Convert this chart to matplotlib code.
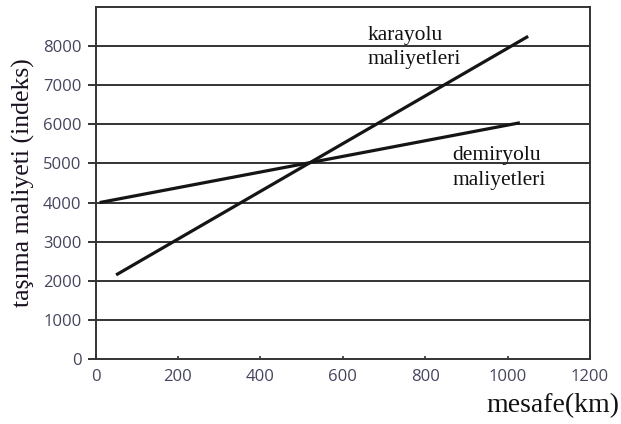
import matplotlib.pyplot as plt

# --------------------------------------------------------------
# Data
# --------------------------------------------------------------
karayolu_km = [50, 1050]
karayolu_cost = [2150, 8250]
demiryolu_km = [10, 1030]
demiryolu_cost = [4000, 6040]

x_ticks = [0, 200, 400, 600, 800, 1000, 1200]
y_ticks = [0, 1000, 2000, 3000, 4000, 5000, 6000, 7000, 8000]

# --------------------------------------------------------------
# Plot
# --------------------------------------------------------------
fig = plt.figure(figsize=(6.21, 4.24), dpi=100)
ax = fig.add_axes([0.1538, 0.1533, 0.7962, 0.8302])

for y in y_ticks[1:]:
    ax.axhline(y, color="#333333", lw=1.4, zorder=1)

ax.plot(karayolu_km, karayolu_cost, color="#151515", lw=2.3, solid_capstyle="butt", zorder=3)
ax.plot(demiryolu_km, demiryolu_cost, color="#151515", lw=2.3, solid_capstyle="butt", zorder=3)

ax.set_xlim(0, 1200)
ax.set_ylim(0, 9000)
ax.set_xticks(x_ticks)
ax.set_yticks(y_ticks)

for s in ax.spines.values():
    s.set_color("#333333")
    s.set_linewidth(1.4)

tick_col = "#45455f"
ax.tick_params(axis="y", direction="out", length=6, width=1.4, color="#333333",
               labelsize=12, labelcolor=tick_col, pad=4)
ax.tick_params(axis="x", direction="in", length=2, width=1.2, color="#333333",
               labelsize=12, labelcolor=tick_col, pad=7)
for lab in ax.get_xticklabels() + ax.get_yticklabels():
    lab.set_family("Open Sans")

ax.set_ylabel("taşıma maliyeti (indeks)", family="Liberation Serif", fontsize=18.5,
              color="#1a1020", labelpad=6)
fig.text(0.997, 0.015, "mesafe(km)", family="Liberation Serif", fontsize=20,
         color="#111111", ha="right", va="bottom")

ax.text(661, 8520, "karayolu\nmaliyetleri", family="Liberation Serif", fontsize=15.5,
        color="#111111", va="top", linespacing=1.4)
ax.text(867, 5440, "demiryolu\nmaliyetleri", family="Liberation Serif", fontsize=15.5,
        color="#111111", va="top", linespacing=1.4)

fig.savefig("out.png", dpi=100)
